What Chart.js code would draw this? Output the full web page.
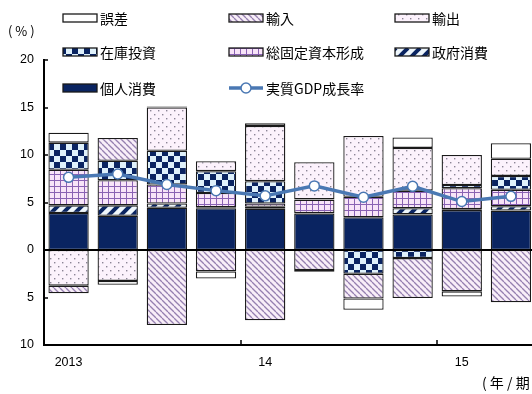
<!DOCTYPE html>
<html>
<head>
<meta charset="utf-8">
<script src="https://cdn.jsdelivr.net/npm/chart.js@4/dist/chart.umd.min.js"></script>
<style>
  body { margin: 0; background: #fff; overflow: hidden; }
</style>
</head>
<body>
<canvas id="chart" width="542" height="394"></canvas>
<script>
// quarters 2013Q1 - 2015Q2
const labels = ["2013", "", "", "", "14", "", "", "", "15", ""];

const kojin    = [3.9, 3.6, 4.45, 4.4, 4.35, 3.85, 3.45, 3.75, 4.2, 4.15];   // 個人消費
const seifu    = [0.8, 1.1, 0.45, 0.1, 0.2, 0.05, 0, 0.65, 0.1, 0.45];       // 政府消費
const kotei    = [3.75, 2.65, 2.0, 1.5, 0.35, 1.4, 2.15, 1.85, 2.2, 1.75];   // 総固定資本形成
const zaiko    = [2.85, 2.05, 3.55, 2.3, 2.35, 0.05, -2.5, -0.85, 0.35, 1.45]; // 在庫投資
const yushutsu = [-3.75, -3.25, 4.55, 1.05, 5.8, 3.9, 6.4, 4.5, 3.15, 1.8];  // 輸出
const yunyu    = [-0.8, 2.4, -7.9, -2.25, -7.4, -2.1, -2.6, -4.2, -4.35, -5.5]; // 輸入
const gosa     = [1.05, -0.4, 0.1, -0.75, 0.3, -0.2, -1.2, 1.1, -0.55, 1.65]; // 誤差
const gdp      = [7.65, 8.0, 6.9, 6.25, 5.7, 6.75, 5.55, 6.7, 5.1, 5.65];    // 実質GDP成長率

const NAVY = "#0a2461";
const LINE = "#4a78b3";

const ctx = document.getElementById("chart").getContext("2d");

function pattern(w, h, draw) {
  const c = document.createElement("canvas");
  c.width = w; c.height = h;
  draw(c.getContext("2d"), w, h);
  return ctx.createPattern(c, "repeat");
}

const govFill = pattern(12, 12, (g, w, h) => {
  g.fillStyle = "#eef6fb"; g.fillRect(0, 0, w, h);
  g.strokeStyle = NAVY; g.lineWidth = 4;
  for (let k = -1; k <= 1; k++) {
    g.beginPath(); g.moveTo(k * w, h); g.lineTo(k * w + w, 0); g.stroke();
  }
});
const gridFill = pattern(6, 6, (g, w, h) => {
  g.fillStyle = "#f8e4f8"; g.fillRect(0, 0, w, h);
  g.fillStyle = "#8a62b3";
  g.fillRect(0, 0, w, 1); g.fillRect(0, 0, 1, h);
});
const checkFill = pattern(12, 12, (g, w, h) => {
  g.fillStyle = "#dff1fb"; g.fillRect(0, 0, w, h);
  g.fillStyle = NAVY;
  g.fillRect(0, 0, 6, 6); g.fillRect(6, 6, 6, 6);
});
const dotFill = pattern(8, 8, (g, w, h) => {
  g.fillStyle = "#fcf2fc"; g.fillRect(0, 0, w, h);
  g.fillStyle = "#8c8496";
  g.fillRect(2, 2, 1.4, 1.4); g.fillRect(6, 6, 1.4, 1.4);
});
const hatchFill = pattern(6, 6, (g, w, h) => {
  g.fillStyle = "#f8eef8"; g.fillRect(0, 0, w, h);
  g.strokeStyle = "#9580b0"; g.lineWidth = 1.3;
  for (let k = -1; k <= 1; k++) {
    g.beginPath(); g.moveTo(k * w, 0); g.lineTo(k * w + w, h); g.stroke();
  }
});

function bar(label, data, fill) {
  return {
    type: "bar", label, data, backgroundColor: fill,
    borderColor: "#1a1a1a", borderWidth: 1.3, borderSkipped: false,
    barPercentage: 0.82, categoryPercentage: 1, order: 1
  };
}

const datasets = [
  bar("個人消費", kojin, NAVY),
  bar("政府消費", seifu, govFill),
  bar("総固定資本形成", kotei, gridFill),
  bar("在庫投資", zaiko, checkFill),
  bar("輸出", yushutsu, dotFill),
  bar("輸入", yunyu, hatchFill),
  bar("誤差", gosa, "#ffffff"),
  {
    type: "line", label: "実質GDP成長率", data: gdp, stack: "gdp", order: 0,
    borderColor: LINE, borderWidth: 3.5, pointRadius: 5,
    pointBackgroundColor: "#fff", pointBorderColor: LINE, pointBorderWidth: 1.5,
    tension: 0
  }
];

const legendItems = [
  { text: "誤差", fill: "#ffffff", col: 0, row: 0 },
  { text: "輸入", fill: hatchFill, col: 1, row: 0 },
  { text: "輸出", fill: dotFill, col: 2, row: 0 },
  { text: "在庫投資", fill: checkFill, col: 0, row: 1 },
  { text: "総固定資本形成", fill: gridFill, col: 1, row: 1 },
  { text: "政府消費", fill: govFill, col: 2, row: 1 },
  { text: "個人消費", fill: NAVY, col: 0, row: 2 },
  { text: "実質GDP成長率", line: true, col: 1, row: 2 }
];

const decor = {
  id: "decor",
  afterDraw(chart) {
    const c = chart.ctx, a = chart.chartArea;
    const x = chart.scales.x, y = chart.scales.y;
    c.save();
    // zero line
    c.strokeStyle = "#000"; c.lineWidth = 2;
    const y0 = Math.round(y.getPixelForValue(0));
    c.beginPath(); c.moveTo(a.left, y0); c.lineTo(a.right, y0); c.stroke();
    // inward y ticks
    c.lineWidth = 1.5;
    [20, 15, 10, 5, -5].forEach(v => {
      const py = Math.round(y.getPixelForValue(v));
      c.beginPath(); c.moveTo(a.left, py); c.lineTo(a.left + 4, py); c.stroke();
    });
    // year separators on x axis
    [3.5, 7.5].forEach(v => {
      const px = Math.round((x.getPixelForValue(Math.floor(v)) + x.getPixelForValue(Math.ceil(v))) / 2);
      c.beginPath(); c.moveTo(px, a.bottom); c.lineTo(px, a.bottom - 5); c.stroke();
    });
    // unit labels
    c.fillStyle = "#000";
    c.textBaseline = "middle";
    c.textAlign = "left";
    c.font = "13px 'Noto Sans CJK JP'";
    c.fillText("( % )", 8, 31);
    c.font = "14px 'Noto Sans CJK JP'";
    c.fillText("( 年 / 期 )", 482, 383);
    // legend
    const colX = [63, 229, 395], rowY = [18, 52, 88];
    c.font = "14px 'Noto Sans CJK JP'";
    legendItems.forEach(it => {
      const lx = colX[it.col], ly = rowY[it.row];
      if (it.line) {
        c.strokeStyle = LINE; c.lineWidth = 3.5;
        c.beginPath(); c.moveTo(lx, ly); c.lineTo(lx + 34, ly); c.stroke();
        c.fillStyle = "#fff"; c.strokeStyle = LINE; c.lineWidth = 1.5;
        c.beginPath(); c.arc(lx + 17, ly, 5, 0, Math.PI * 2); c.fill(); c.stroke();
      } else {
        c.fillStyle = it.fill;
        c.fillRect(lx, ly - 4, 34, 8);
        c.strokeStyle = "#1a1a1a"; c.lineWidth = 1.3;
        c.strokeRect(lx, ly - 4, 34, 8);
      }
      c.fillStyle = "#000";
      c.fillText(it.text, lx + 37, ly + 1);
    });
    c.restore();
  }
};

new Chart(ctx, {
  data: { labels, datasets },
  options: {
    responsive: false,
    animation: false,
    layout: { padding: { top: 60, right: 0, bottom: 0, left: 0 } },
    plugins: { legend: { display: false }, tooltip: { enabled: false } },
    scales: {
      x: {
        stacked: true,
        afterFit: s => { s.height = 49; },
        grid: { display: false, drawTicks: false },
        border: { display: true, color: "#000", width: 2 },
        ticks: {
          autoSkip: false, maxRotation: 0, padding: 10, color: "#000",
          font: { family: "'Liberation Sans', Arial", size: 12.5 }
        }
      },
      y: {
        stacked: true,
        min: -10, max: 20,
        afterFit: s => { s.width = 44; },
        grid: { display: false, drawTicks: false },
        border: { display: true, color: "#000", width: 2 },
        ticks: {
          stepSize: 5, padding: 10, color: "#000",
          font: { family: "'Liberation Sans', Arial", size: 12.5 },
          callback: v => Math.abs(v)
        }
      }
    }
  },
  plugins: [decor]
});
</script>
</body>
</html>
